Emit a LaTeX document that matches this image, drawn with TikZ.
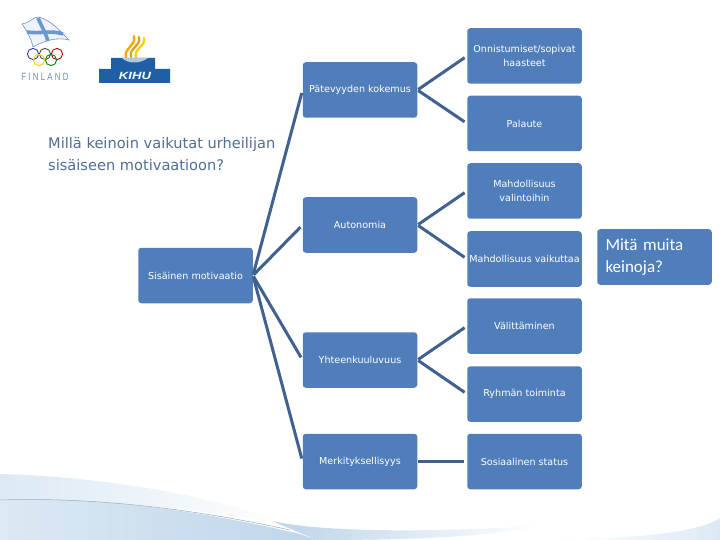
\documentclass[tikz,border=0pt]{standalone}
\usepackage{fontspec}
\setmainfont{DejaVu Sans}
\newfontfamily\titlefont{Carlito}
\newfontfamily\logofont{Liberation Sans}
\usetikzlibrary{shapes.geometric}
\definecolor{boxblue}{HTML}{4F7EBA}
\definecolor{linkblue}{HTML}{41628F}
\definecolor{titleblue}{HTML}{4F6F96}
\definecolor{swA}{HTML}{A9C8E4}
\definecolor{swB}{HTML}{DCE9F4}
\definecolor{swC}{HTML}{F4F7FA}
\definecolor{flagblue}{HTML}{6C97CC}
\definecolor{podium}{HTML}{1E5FA6}
\tikzset{
  x=1pt,y=-1pt,
  block/.style={rectangle,rounded corners=3pt,fill=boxblue,draw=none,minimum width=114.5pt,minimum height=55.5pt,inner sep=0pt,align=center,text=white,font=\fontsize{9.6pt}{13.5pt}\selectfont},
  link/.style={draw=linkblue,line width=3pt,shorten >=3pt,shorten <=1pt},
  ring/.style={line width=0.9pt},
}
\begin{document}
\begin{tikzpicture}
\useasboundingbox (0,0) rectangle (720,540);
\fill[white] (0,0) rectangle (720,540);
% background swoosh
\shade[top color=white,middle color=swC,bottom color=white] (0,452) -- (720,452) -- (720,500) -- (0,500) -- cycle;
\shade[left color=swB,right color=white] (0,474) .. controls (80,476) and (200,490) .. (290,525) .. controls (220,512) and (120,500) .. (0,500) -- cycle;
\shade[left color=swB,right color=swA!75] (0,500) .. controls (90,497) and (190,508) .. (300,534) -- (317,540) -- (0,540) -- cycle;
\shade[left color=swA!80,right color=white] (272,521) .. controls (310,530) and (400,534) .. (540,526) .. controls (480,538) and (400,540) .. (317,540) -- cycle;
\shade[left color=white,right color=swB] (560,540) .. controls (640,538) and (700,532) .. (720,518) -- (720,540) -- cycle;
\draw[draw=swA!60!gray,line width=0.5pt] (0,500) .. controls (90,497) and (190,508) .. (290,530);
% Finland logo
\filldraw[fill=flagblue!12,draw=flagblue,line width=0.6pt] (22,24) .. controls (28,24) and (34,16) .. (39,17) .. controls (52,21) and (60,31) .. (69,40) .. controls (58,37) and (45,40) .. (33,47) .. controls (31,38) and (27,31) .. (22,24) -- cycle;
\draw[flagblue,line width=3.6pt] (38,18) .. controls (42,27) and (46,34) .. (48,41);
\draw[flagblue,line width=3.6pt] (27,32) .. controls (40,34) and (52,30) .. (63,34);
\foreach \cx/\cy/\cc in {33/54/blue!60!gray,45/54/black!70,57/54/red!70!black,39/60/yellow!70!orange,51/60/green!50!black}
  \draw[ring,draw=\cc] (\cx,\cy) circle (5.6);
\node[inner sep=0pt,text=flagblue!70!gray,font=\logofont\fontsize{10.5pt}{10.5pt}\selectfont,xscale=0.75] (fin) at (45,76.5) {F\kern3ptI\kern3ptN\kern3ptL\kern3ptA\kern3ptN\kern3ptD};
% KIHU logo
\foreach \dx/\cc in {0/orange!70!yellow,5/brown!70!yellow,10/yellow!70!orange}
  \draw[\cc,line width=2.4pt,line cap=round] (126+\dx,57) .. controls (124+\dx,47) and (136+\dx,47) .. (134+\dx,36+\dx*0.2);
\fill[podium] (99,83) -- (99,69) -- (111,69) -- (111,58) -- (155,58) -- (155,69) -- (170,69) -- (170,83) -- cycle;
\fill[white!65!podium] (122,58) .. controls (128,64) and (140,64) .. (148,58) -- cycle;
\node[inner sep=0pt,text=white,font=\logofont\bfseries\itshape\fontsize{10.5pt}{10.5pt}\selectfont,xscale=1.25] (kihu) at (135,76) {KIHU};
% title
\node[anchor=north west,inner sep=0pt,align=left,text=titleblue,font=\fontsize{14.6pt}{22pt}\selectfont] (title) at (48,137) {Millä keinoin vaikutat urheilijan\\sisäiseen motivaatioon?};
% nodes
\node[block] (sis) at (195.5,275.5) {Sisäinen motivaatio};
\node[block] (pat) at (360,90) {Pätevyyden kokemus};
\node[block] (aut) at (360,225) {Autonomia};
\node[block] (yht) at (360,360) {Yhteenkuuluvuus};
\node[block] (mer) at (360,461.5) {Merkityksellisyys};
\node[block] (onn) at (524.5,56) {Onnistumiset/sopivat\\haasteet};
\node[block] (pal) at (524.5,123.5) {Palaute};
\node[block] (val) at (524.5,191) {Mahdollisuus\\valintoihin};
\node[block] (vai) at (524.5,259) {Mahdollisuus vaikuttaa};
\node[block] (vali) at (524.5,326) {Välittäminen};
\node[block] (ryh) at (524.5,394) {Ryhmän toiminta};
\node[block] (sos) at (524.5,461.5) {Sosiaalinen status};
\node[block,align=left,text width=98pt,font=\titlefont\fontsize{17pt}{22pt}\selectfont] (mit) at (654.5,257) {Mitä muita\\keinoja?};
% connectors
\foreach \a/\b in {sis/pat,sis/aut,sis/yht,sis/mer,pat/onn,pat/pal,aut/val,aut/vai,yht/vali,yht/ryh,mer/sos}
  \draw[link] (\a.east) -- (\b.west);
\end{tikzpicture}
\end{document}
